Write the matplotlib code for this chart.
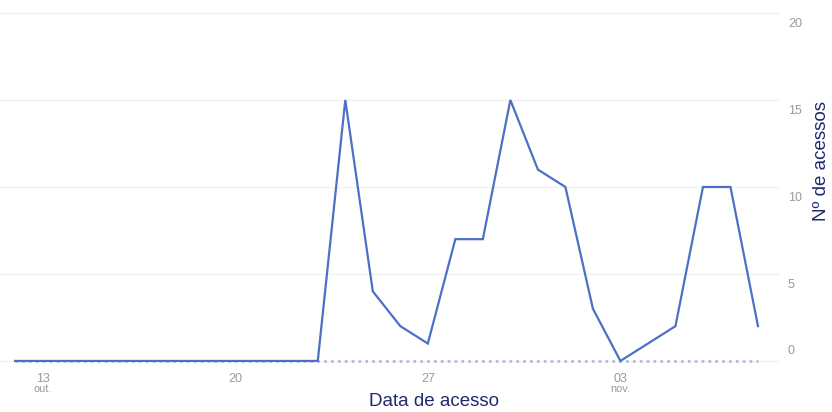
import pandas as pd
import matplotlib.pyplot as plt
import matplotlib.dates as mdates
from matplotlib.transforms import blended_transform_factory, offset_copy

plt.rcParams['font.family'] = ['Liberation Sans', 'DejaVu Sans']

# acessos diarios, 12 out. ate 08 nov.
start_date = '2023-10-12'
acessos = [0, 0, 0, 0, 0, 0, 0, 0, 0, 0, 0, 0,
           15, 4, 2, 1, 7, 7, 15, 11, 10, 3, 0, 1, 2, 10, 10, 2]
tick_dates = ['2023-10-13', '2023-10-20', '2023-10-27', '2023-11-03']
tick_labels = ['13', '20', '27', '03']
month_labels = {'2023-10-13': 'out.', '2023-11-03': 'nov.'}
y_ticks = [0, 5, 10, 15, 20]

df = pd.DataFrame({'Data': pd.date_range(start_date, periods=len(acessos), freq='D'),
                   'Acessos': acessos})

fig = plt.figure(figsize=(8.32, 4.12), dpi=100)
ax = fig.add_axes([0.0, 0.1117, 0.9375, 0.869])

x0 = mdates.date2num(df['Data'].iloc[0])
x1 = mdates.date2num(df['Data'].iloc[-1])

# linha de base pontilhada
ax.plot([df['Data'].iloc[0], df['Data'].iloc[-1]], [0, 0], linestyle=(0, (1.0, 1.6)),
        color='#aeb8d8', linewidth=1.9, zorder=2)
ax.plot(df['Data'], df['Acessos'], color='#4d6fc6', linewidth=1.6,
        solid_joinstyle='miter', zorder=3)

ax.set_xlim(x0 - 0.55, x1 + 0.8)
ax.set_ylim(-0.29, 20.29)

ax.set_yticks(y_ticks)
ax.set_yticklabels([])
ax.grid(axis='y', color='#f2f2f2', linewidth=1)
ax.set_axisbelow(True)

# rotulos do eixo y (abaixo da linha de grade, o zero acima)
ytrans = blended_transform_factory(ax.transAxes, ax.transData)
for v in y_ticks:
    if v == 0:
        t = offset_copy(ytrans, fig=fig, x=8, y=4, units='dots')
        va = 'bottom'
    else:
        t = offset_copy(ytrans, fig=fig, x=8, y=-5, units='dots')
        va = 'top'
    ax.text(1.0, v, str(v), transform=t, ha='left', va=va, fontsize=9,
            color='#9a9a9a', clip_on=False)

ax.set_xticks(pd.to_datetime(tick_dates))
ax.set_xticklabels(tick_labels)
ax.tick_params(axis='both', length=0)
ax.tick_params(axis='x', pad=5, labelsize=9, labelcolor='#9a9a9a')

trans = blended_transform_factory(ax.transData, ax.transAxes)
for d, m in month_labels.items():
    ax.text(mdates.date2num(pd.Timestamp(d)), -0.05, m, transform=trans,
            ha='center', va='top', fontsize=7.8, color='#9a9a9a')

for s in ax.spines.values():
    s.set_visible(False)

fig.text(434 / 832, 2 / 412, 'Data de acesso', ha='center', va='bottom',
         fontsize=13.5, color='#1f2a6e')
fig.text(821 / 832, 1 - 161 / 412, 'Nº de acessos', ha='center', va='center',
         rotation=90, fontsize=13.5, color='#1f2a6e')

fig.savefig('out.png', dpi=100)
